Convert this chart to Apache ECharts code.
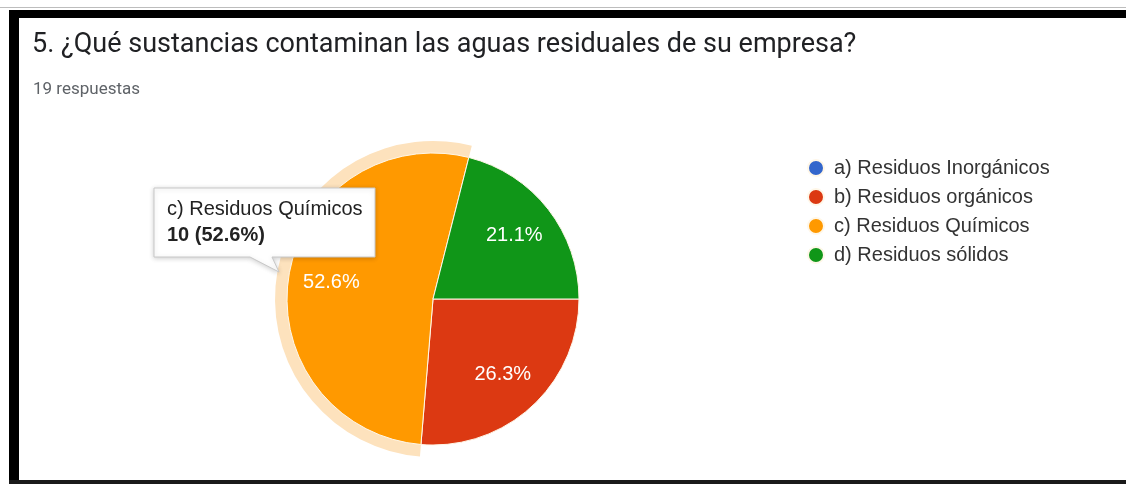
<!DOCTYPE html>
<html>
<head>
<meta charset="utf-8">
<script src="https://cdn.jsdelivr.net/npm/echarts@6/dist/echarts.min.js"></script>
<style>
  html, body { margin: 0; padding: 0; background: #ffffff; }
  #chart { width: 1126px; height: 484px; }
</style>
</head>
<body>
<div id="chart"></div>
<script>
// Survey question, answer options and response counts
const questionText = '5. ¿Qué sustancias contaminan las aguas residuales de su empresa?';
const responsesText = '19 respuestas';
const categories = ['a) Residuos Inorgánicos', 'b) Residuos orgánicos', 'c) Residuos Químicos', 'd) Residuos sólidos'];
const counts = [0, 5, 10, 4];
const sliceColors = ['#3366cc', '#dc3912', '#ff9900', '#109618'];
const highlightedIndex = 2;

const total = counts.reduce((a, b) => a + b, 0);
const pct = v => (v / total * 100).toFixed(1) + '%';

const chart = echarts.init(document.getElementById('chart'), null, { renderer: 'canvas' });

const pieCenter = [433, 299];
const pieRadius = 146;

const mainData = categories.map((name, i) => ({
  name, value: counts[i], itemStyle: { color: sliceColors[i] }
}));

const haloData = categories.map((name, i) => ({
  name, value: counts[i],
  itemStyle: { color: i === highlightedIndex ? '#fde2bd' : 'rgba(0,0,0,0)' }
}));

const labelData = categories.map((name, i) => ({
  name, value: counts[i], itemStyle: { color: 'rgba(0,0,0,0)' }
}));

// Hover card for the highlighted slice
const cardX = 154, cardY = 188, cardW = 221, cardH = 69;
const cardShape = [
  [cardX, cardY], [cardX + cardW, cardY], [cardX + cardW, cardY + cardH],
  [272, cardY + cardH], [279, 272], [250, cardY + cardH], [cardX, cardY + cardH]
];

chart.setOption({
  backgroundColor: '#ffffff',
  animation: false,
  title: [
    {
      text: questionText, left: 32, top: 32, padding: 0,
      textStyle: { fontFamily: 'Roboto', fontSize: 27, fontWeight: 'normal', color: '#202124' }
    },
    {
      text: responsesText, left: 33, top: 81, padding: 0,
      textStyle: { fontFamily: 'Roboto', fontSize: 17, fontWeight: 'normal', color: '#5f6368' }
    }
  ],
  legend: {
    orient: 'vertical',
    left: 807, top: 158,
    padding: 0,
    itemWidth: 16, itemHeight: 16, itemGap: 9,
    icon: 'circle',
    data: categories,
    selectedMode: false,
    textStyle: { fontFamily: 'Liberation Sans, Arial', fontSize: 20, color: '#333333', padding: [0, 0, 0, 5] }
  },
  series: [
    {
      name: 'respuestas',
      type: 'pie',
      center: pieCenter,
      radius: [0, pieRadius],
      startAngle: 0,
      clockwise: true,
      z: 3,
      silent: true,
      label: { show: false },
      labelLine: { show: false },
      itemStyle: { borderColor: '#fff7e8', borderWidth: 1 },
      data: mainData
    },
    {
      name: 'halo',
      type: 'pie',
      center: pieCenter,
      radius: [0, pieRadius + 12],
      startAngle: 0,
      clockwise: true,
      z: 2,
      silent: true,
      label: { show: false },
      labelLine: { show: false },
      itemStyle: { borderWidth: 0 },
      data: haloData
    },
    {
      name: 'etiquetas',
      type: 'pie',
      center: pieCenter,
      radius: [0, pieRadius * 1.37],
      startAngle: 0,
      clockwise: true,
      z: 4,
      silent: true,
      label: {
        show: true,
        position: 'inside',
        fontFamily: 'Liberation Sans, Arial',
        fontSize: 20,
        color: '#ffffff',
        formatter: p => p.value > 0 ? pct(p.value) : ''
      },
      labelLine: { show: false },
      itemStyle: { borderWidth: 0 },
      data: labelData
    }
  ],
  graphic: [
    // page frame
    { type: 'rect', z: 100, shape: { x: 9, y: 10, width: 1117, height: 8 }, style: { fill: '#000000' } },
    { type: 'rect', z: 100, shape: { x: 9, y: 10, width: 10, height: 474 }, style: { fill: '#000000' } },
    { type: 'rect', z: 100, shape: { x: 9, y: 480, width: 1117, height: 4 }, style: { fill: '#1a1a1a' } },
    { type: 'rect', z: 99, shape: { x: 0, y: 7, width: 1126, height: 1 }, style: { fill: '#bdbdbd' } },
    // hover card
    {
      type: 'polygon', z: 50,
      shape: { points: cardShape },
      style: { fill: '#ffffff', stroke: '#c8c8c8', lineWidth: 1, shadowBlur: 5, shadowColor: 'rgba(0,0,0,0.18)', shadowOffsetY: 1 }
    },
    {
      type: 'text', z: 51, left: 167, top: 199,
      style: { text: categories[highlightedIndex], font: '20px "Liberation Sans", Arial', fill: '#222222' }
    },
    {
      type: 'text', z: 51, left: 167, top: 225,
      style: { text: counts[highlightedIndex] + ' (' + pct(counts[highlightedIndex]) + ')', font: 'bold 20px "Liberation Sans", Arial', fill: '#222222' }
    }
  ]
});
</script>
</body>
</html>
